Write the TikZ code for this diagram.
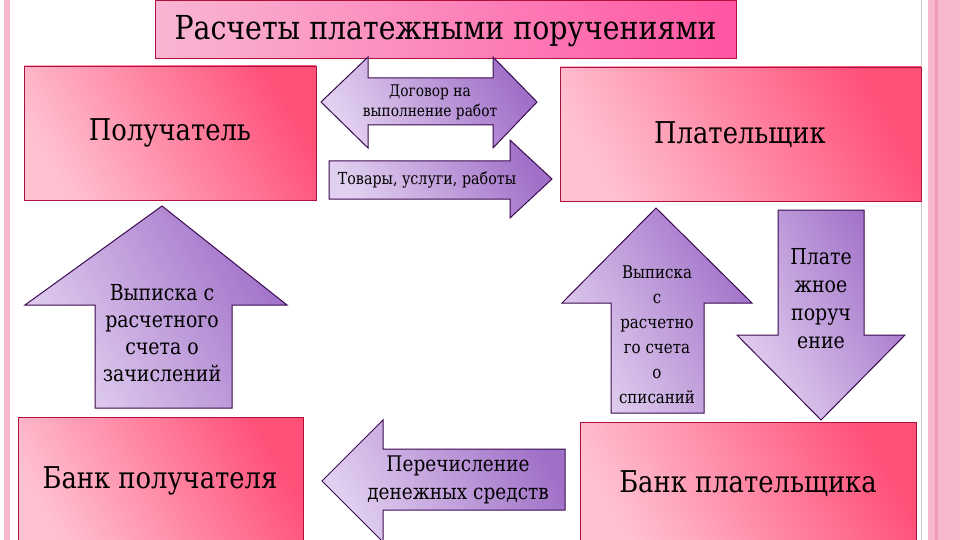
\documentclass[tikz,border=0pt]{standalone}
\usepackage{fontspec}
\setmainfont{DejaVu Serif}
\newfontfamily\tnr[FakeStretch=0.86]{DejaVu Serif}
\definecolor{pinkL}{HTML}{FFC0D0}
\definecolor{pinkR}{HTML}{FF5078}
\definecolor{titleL}{HTML}{F9B6D3}
\definecolor{titleR}{HTML}{FF55A2}
\definecolor{boxline}{HTML}{B0103C}
\definecolor{purL}{HTML}{E2D0F0}
\definecolor{purR}{HTML}{A070C8}
\definecolor{purline}{HTML}{3C0A50}
\definecolor{stripe}{HTML}{F7B8CC}
\definecolor{stripeD}{HTML}{EE9AB6}
\definecolor{greyline}{HTML}{D4C4CC}
\begin{document}
\begin{tikzpicture}[x=1pt,y=-1pt,
  pinkbox/.style={draw=boxline, line width=0.8pt, top color=pinkR, bottom color=pinkL, shading angle=-60},
  titlebox/.style={draw=boxline, line width=0.8pt, left color=titleL, right color=titleR},
  purarrow/.style={draw=purline, line width=1pt, line join=miter, top color=purR, bottom color=purL, shading angle=-60},
  bigtxt/.style={font=\tnr\fontsize{30}{36}\selectfont, text=black},
  arrtxt/.style={align=center, text=black, inner sep=0pt}]
\useasboundingbox (0,0) rectangle (960,540);
\fill[white] (0,0) rectangle (960,540);
% side decorations
\fill[stripe] (4,0) rectangle (10,540);
\draw[greyline, line width=1pt] (921,0) -- (921,540);
\fill[stripe] (928,0) rectangle (960,540);
\fill[stripeD] (935,0) rectangle (938,540);
% title
\path[titlebox] (155,0) rectangle (736,58);
\node[font=\tnr\fontsize{33}{40}\selectfont] (title) at (445.5,31) {Расчеты платежными поручениями};
% boxes
\path[pinkbox] (24,66) rectangle (316,200);
\node[bigtxt] (rec) at (170,133) {Получатель};
\path[pinkbox] (560,67) rectangle (921,201);
\node[bigtxt] (pay) at (740,135) {Плательщик};
\path[pinkbox] (18,417) rectangle (303,545);
\node[bigtxt] (recbank) at (160,481) {Банк получателя};
\path[pinkbox] (580,422) rectangle (916,545);
\node[bigtxt] (paybank) at (748,484) {Банк плательщика};
% double arrow
\path[purarrow] (321,102) -- (368,57) -- (368,78) -- (493,78) -- (493,57) -- (537,102)
  -- (493,148) -- (493,125) -- (368,125) -- (368,148) -- cycle;
\node[arrtxt, font=\tnr\fontsize{16}{20}\selectfont] (contract) at (430,102) {Договор на\\выполнение работ};
% goods arrow
\path[purarrow] (329,161) -- (510,161) -- (510,140) -- (552,179) -- (510,218) -- (510,199) -- (329,199) -- cycle;
\node[arrtxt, font=\tnr\fontsize{16.6}{20}\selectfont] (goods) at (427,180) {Товары, услуги, работы};
% left up arrow
\path[purarrow] (162,206) -- (287,305) -- (232,305) -- (232,408) -- (95,408) -- (95,305) -- (25,305) -- cycle;
\node[arrtxt, font=\tnr\fontsize{22}{27}\selectfont] (stmt1) at (162,333) {Выписка с\\расчетного\\счета о\\зачислений};
% right up arrow
\path[purarrow] (656,208) -- (752,303) -- (704,303) -- (704,413) -- (611,413) -- (611,303) -- (562,303) -- cycle;
\node[arrtxt, font=\tnr\fontsize{17.5}{25}\selectfont] (stmt2) at (657,335) {Выписка\\с\\расчетно\\го счета\\о\\списаний};
% down arrow
\path[purarrow] (778,210) -- (864,210) -- (864,335) -- (905,335) -- (821,420) -- (737,335) -- (778,335) -- cycle;
\node[arrtxt, font=\tnr\fontsize{22}{28}\selectfont] (order) at (821,299) {Плате\\жное\\поруч\\ение};
% transfer arrow
\path[purarrow] (322,481) -- (383,420) -- (383,449) -- (565,449) -- (565,510) -- (383,510) -- (383,542) -- cycle;
\node[arrtxt, font=\tnr\fontsize{21.5}{28}\selectfont] (transfer) at (458,480) {Перечисление\\денежных средств};
\end{tikzpicture}
\end{document}
